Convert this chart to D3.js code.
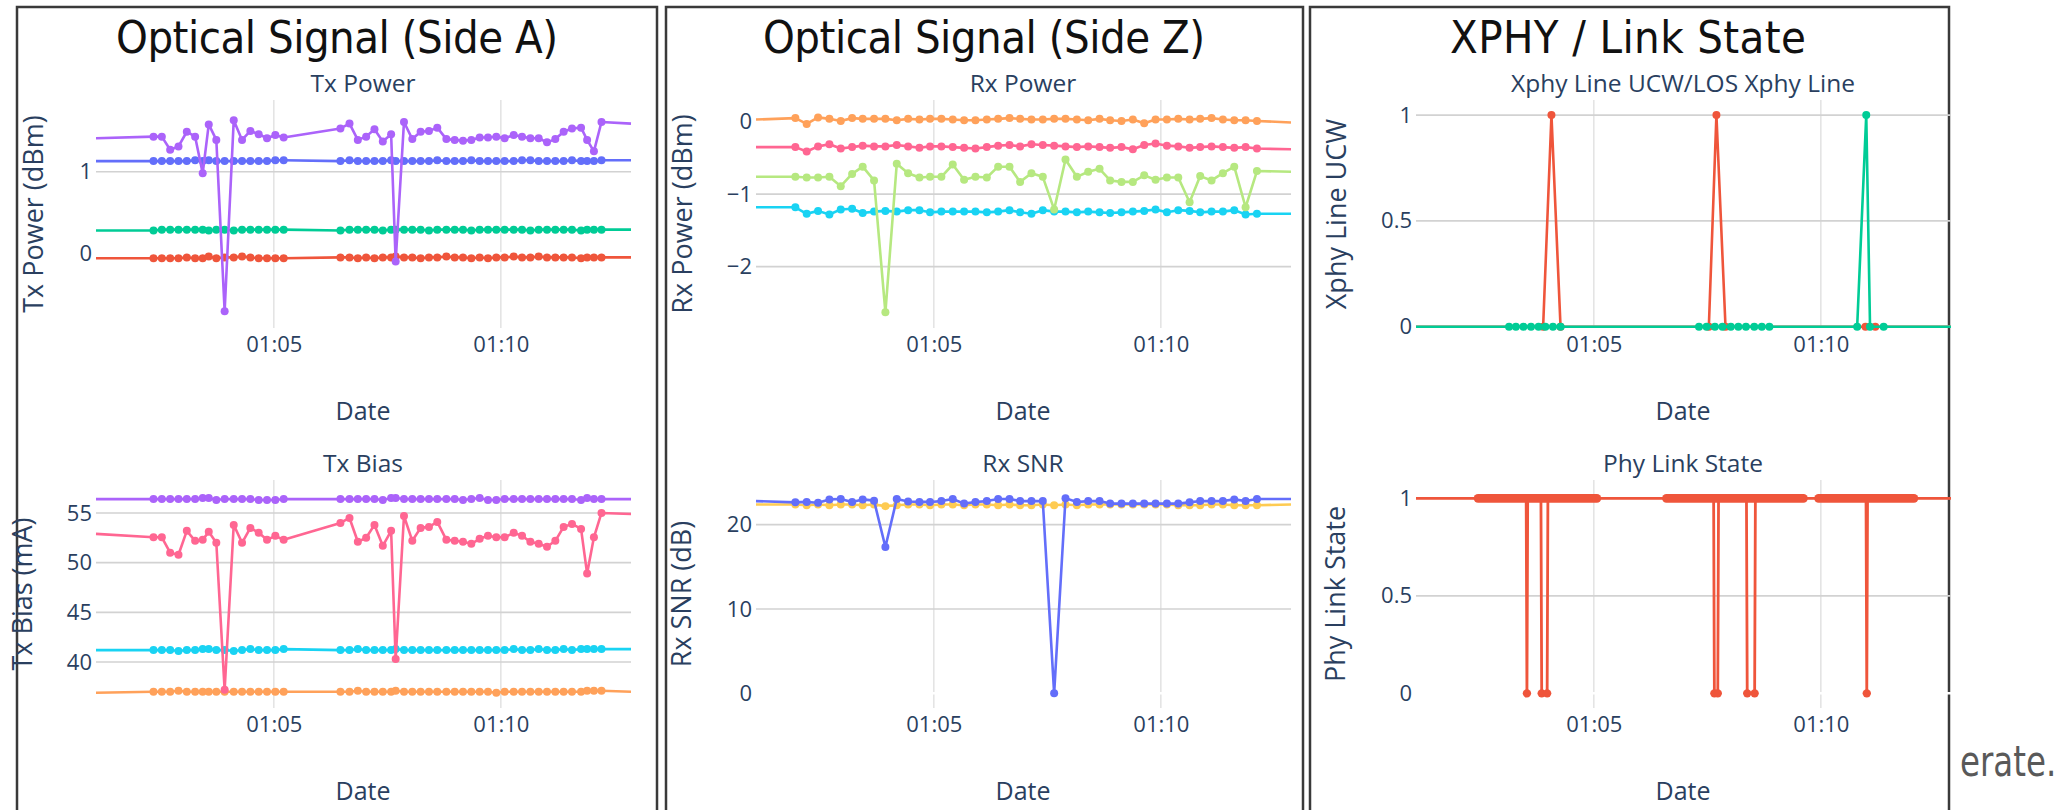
<!DOCTYPE html>
<html>
<head>
<meta charset="utf-8">
<script src="https://cdn.jsdelivr.net/npm/d3@7"></script>
<style>
  body { margin: 0; background: #fff; }
  svg { display: block; }
</style>
</head>
<body>
<div id="chart"></div>
<script>
// seconds after 01:00:00
var timeDomainSec = [65, 772]
var xTickSec = [300, 600]

// side A polls (Tx Power / Tx Bias)
var timesA = [141, 152, 163, 174, 185, 196, 206, 214, 224, 235, 247, 258, 269, 280, 291, 302, 313,
  388, 400, 411, 422, 433, 444, 455, 461, 472, 483, 494, 505, 516, 528, 539, 550, 561, 572, 583,
  594, 605, 617, 628, 639, 650, 661, 672, 683, 694, 706, 714, 723, 733]

var txPowerPurple = [1.43, 1.43, 1.27, 1.31, 1.49, 1.43, 0.98, 1.58, 1.39, -0.71, 1.63, 1.39, 1.50, 1.46, 1.41, 1.45, 1.42,
  1.53, 1.59, 1.39, 1.43, 1.52, 1.37, 1.46, -0.10, 1.61, 1.40,
  1.49, 1.50, 1.54, 1.40, 1.39, 1.38, 1.39, 1.42, 1.42, 1.43,
  1.41, 1.45, 1.43, 1.41, 1.41, 1.36, 1.40, 1.49, 1.53, 1.54,
  1.39, 1.25, 1.61]
var txPowerBlue = [1.13, 1.13, 1.13, 1.13, 1.13, 1.14, 1.13, 1.14, 1.13, 1.13, 1.13, 1.13, 1.13, 1.13, 1.13, 1.14, 1.14,
  1.13, 1.14, 1.13, 1.13, 1.13, 1.13, 1.14, 1.13, 1.13, 1.13,
  1.13, 1.13, 1.14, 1.13, 1.13, 1.13, 1.14, 1.13, 1.13, 1.13,
  1.13, 1.13, 1.14, 1.14, 1.13, 1.13, 1.13, 1.13, 1.14, 1.13,
  1.13, 1.13, 1.14]
var txPowerGreen = [0.28, 0.29, 0.29, 0.29, 0.29, 0.29, 0.29, 0.28, 0.29, 0.29, 0.28, 0.29, 0.29, 0.29, 0.29, 0.29, 0.29,
  0.28, 0.29, 0.29, 0.29, 0.29, 0.28, 0.29, 0.29, 0.29, 0.29,
  0.29, 0.28, 0.29, 0.29, 0.29, 0.29, 0.28, 0.29, 0.29, 0.29,
  0.29, 0.29, 0.29, 0.28, 0.29, 0.29, 0.29, 0.29, 0.29, 0.28,
  0.29, 0.29, 0.29]
var txPowerRed = [-0.06, -0.06, -0.06, -0.06, -0.05, -0.06, -0.06, -0.04, -0.06, -0.05, -0.05, -0.04, -0.05, -0.06, -0.06, -0.06, -0.06,
  -0.05, -0.05, -0.06, -0.05, -0.06, -0.05, -0.05, -0.04, -0.05, -0.05,
  -0.06, -0.05, -0.05, -0.04, -0.05, -0.05, -0.06, -0.05, -0.06, -0.05,
  -0.05, -0.04, -0.05, -0.05, -0.04, -0.05, -0.05, -0.05, -0.05, -0.06,
  -0.05, -0.05, -0.05]

var txBiasPurple = [56.4, 56.4, 56.4, 56.4, 56.4, 56.4, 56.5, 56.5, 56.3, 56.4, 56.4, 56.4, 56.4, 56.3, 56.3, 56.3, 56.4,
  56.4, 56.4, 56.4, 56.4, 56.4, 56.3, 56.5, 56.5, 56.4, 56.4,
  56.4, 56.4, 56.4, 56.4, 56.4, 56.3, 56.4, 56.5, 56.3, 56.3,
  56.4, 56.4, 56.4, 56.4, 56.4, 56.4, 56.4, 56.4, 56.4, 56.3,
  56.5, 56.4, 56.4]
var txBiasPink = [52.55, 52.55, 51.0, 50.8, 53.2, 52.2, 52.3, 53.1, 52.0, 37.2, 53.8, 52.0, 53.5, 53.0, 52.3, 52.7, 52.3,
  54.0, 54.5, 52.1, 52.5, 53.8, 51.7, 53.2, 40.3, 54.7, 52.2,
  53.5, 53.6, 54.1, 52.3, 52.2, 52.1, 51.9, 52.4, 52.7, 52.55,
  52.55, 53.0, 52.7, 52.1, 51.9, 51.6, 52.2, 53.6, 53.9, 53.4,
  48.9, 52.55, 55.0]
var txBiasCyan = [41.2, 41.2, 41.2, 41.1, 41.2, 41.2, 41.3, 41.3, 41.2, 41.2, 41.1, 41.2, 41.3, 41.2, 41.2, 41.2, 41.3,
  41.2, 41.2, 41.3, 41.2, 41.2, 41.2, 41.2, 41.3, 41.2, 41.2,
  41.2, 41.2, 41.2, 41.2, 41.2, 41.2, 41.2, 41.2, 41.2, 41.2,
  41.2, 41.3, 41.2, 41.2, 41.3, 41.2, 41.2, 41.3, 41.2, 41.3,
  41.3, 41.3, 41.3]
var txBiasOrange = [37.0, 37.0, 37.0, 37.1, 37.0, 37.0, 37.0, 37.0, 37.0, 37.0, 37.0, 37.0, 37.0, 37.0, 37.0, 37.0, 37.0,
  37.0, 37.0, 37.1, 37.0, 37.0, 37.0, 37.0, 37.1, 37.0, 37.0,
  37.0, 37.0, 37.0, 37.0, 37.0, 37.0, 37.0, 37.0, 37.0, 36.9,
  37.0, 37.0, 37.0, 37.0, 37.0, 37.0, 37.0, 37.0, 37.0, 37.0,
  37.1, 37.1, 37.1]

// side Z polls (Rx Power / Rx SNR)
var timesZ = [117, 132, 147, 162, 177, 192, 206, 221, 236, 251, 266, 281, 295, 310, 325, 340, 355, 370, 385, 400,
  414, 429, 444, 459, 474, 489, 504, 519, 533, 548, 563, 578, 593, 608, 623, 638, 652, 667, 682, 697, 712, 727]

var rxPowerOrange = [0.05, -0.03, 0.06, 0.04, 0.01, 0.05, 0.04, 0.04, 0.04, 0.02, 0.04, 0.03, 0.04, 0.04, 0.03, 0.02, 0.02, 0.03, 0.04, 0.05,
  0.04, 0.03, 0.03, 0.04, 0.04, 0.03, 0.02, 0.04, 0.02, 0.01, 0.03, -0.02, 0.03, 0.03, 0.04, 0.03, 0.04, 0.05, 0.03, 0.02, 0.02, 0.01]
var rxPowerPink = [-0.35, -0.41, -0.34, -0.31, -0.37, -0.35, -0.33, -0.34, -0.34, -0.32, -0.34, -0.36, -0.34, -0.34, -0.35, -0.36, -0.37, -0.35, -0.33, -0.32,
  -0.34, -0.31, -0.32, -0.33, -0.34, -0.35, -0.34, -0.35, -0.36, -0.35, -0.38, -0.32, -0.30, -0.33, -0.34, -0.36, -0.35, -0.34, -0.35, -0.36, -0.35, -0.37]
var rxPowerGreen = [-0.76, -0.77, -0.77, -0.76, -0.89, -0.72, -0.62, -0.81, -2.63, -0.58,
  -0.71, -0.77, -0.76, -0.76, -0.59, -0.80, -0.76, -0.77, -0.62, -0.62,
  -0.83, -0.71, -0.76, -1.21, -0.52, -0.76, -0.69, -0.65, -0.81, -0.83,
  -0.83, -0.74, -0.80, -0.77, -0.77, -1.11, -0.75, -0.81, -0.71, -0.62,
  -1.18, -0.68]
var rxPowerCyan = [-1.18, -1.27, -1.23, -1.28, -1.21, -1.20, -1.26, -1.24, -1.23, -1.24, -1.22, -1.22, -1.25, -1.24, -1.24, -1.24, -1.24, -1.25, -1.24, -1.22,
  -1.25, -1.27, -1.22, -1.24, -1.24, -1.25, -1.24, -1.25, -1.26, -1.25, -1.24, -1.23, -1.21, -1.25, -1.22, -1.23, -1.25, -1.24, -1.24, -1.22, -1.28, -1.27]

var rxSnrOrange = [22.4, 22.3, 22.4, 22.3, 22.4, 22.4, 22.3, 22.4, 22.2, 22.3, 22.4, 22.4, 22.3, 22.4, 22.4, 22.3, 22.4, 22.4, 22.3, 22.4,
  22.3, 22.3, 22.4, 22.3, 22.4, 22.3, 22.4, 22.4, 22.4, 22.4, 22.4, 22.4, 22.4, 22.4, 22.3, 22.3, 22.3, 22.4, 22.4, 22.3, 22.3, 22.3]
var rxSnrBlue = [22.65, 22.7, 22.6, 23.0, 23.05, 22.7, 23.0, 22.85, 17.35, 23.05,
  22.75, 22.7, 22.7, 22.8, 23.05, 22.5, 22.7, 22.8, 23.05, 23.05,
  22.8, 22.8, 22.8, 0, 23.15, 22.7, 22.8, 22.8, 22.5, 22.5,
  22.5, 22.5, 22.5, 22.5, 22.5, 22.65, 22.8, 22.8, 22.8, 23.0,
  22.8, 23.05]

// XPHY line UCW/LOS
var xphyRedTimes = [233, 244, 256, 452, 462, 474, 659, 672]
var xphyRedValues = [0, 1, 0, 0, 1, 0, 0, 0]
var xphyGreenTimes = [188, 197, 207, 217, 227, 236, 246, 256, 439, 449, 460, 470, 481, 491, 501, 512, 522, 532, 648, 660, 665, 683]
var xphyGreenValues = [0, 0, 0, 0, 0, 0, 0, 0, 0, 0, 0, 0, 0, 0, 0, 0, 0, 0, 0, 1, 0, 0]

// Phy link state: dense 1-second samples, only the flips are listed
var phyTimes = [147, 210.6, 211.6, 212.6, 230.1, 231.1, 238.3, 239.3, 304, 396, 458.3, 459.3, 463.8, 464.8,
  501.7, 502.7, 512.5, 513.5, 577, 597, 659.7, 660.7, 661.7, 723]
var phyValues = [1, 1, 0, 1, 1, 0, 0, 1, 1, 1, 1, 0, 0, 1, 1, 0, 0, 1, 1, 1, 1, 0, 1, 1]
var phyRuns = [[147, 304], [396, 577], [597, 723]]

var colors = {
  blue: "#636efa", red: "#ef553b", green: "#00cc96", purple: "#ab63fa", orange: "#ffa15a",
  cyan: "#19d3f3", pink: "#ff6692", lime: "#b6e880", yellow: "#fecb52"
}

var base = new Date(2023, 0, 1, 1, 0, 0)
var toDate = s => new Date(base.getTime() + s * 1000)
var timeDomain = timeDomainSec.map(toDate)
var xTicks = xTickSec.map(toDate)

var plotLeft = 96
var plotRight = 631
var tickColor = "#2a3f5f"
var plotFont = "'Open Sans', Verdana, Arial, sans-serif"
var slideFont = "'Liberation Sans Narrow', 'DejaVu Sans Condensed', 'Liberation Sans', Arial, sans-serif"

function series(times, values, edge, color, extra) {
  return Object.assign({ times: times, values: values, edge: edge, color: color }, extra || {})
}

var subplots = [
  { ox: 0, top: 100, bottom: 328, yDomain: [-0.915, 1.879], yTicks: [0, 1], title: "Tx Power", titleY: 92,
    yTitle: "Tx Power (dBm)", yTitleX: 34, dateY: 420,
    series: [
      series(timesA, txPowerRed, [-0.06, -0.05], colors.red),
      series(timesA, txPowerGreen, [0.28, 0.29], colors.green),
      series(timesA, txPowerBlue, [1.13, 1.14], colors.blue),
      series(timesA, txPowerPurple, [1.41, 1.59], colors.purple)
    ] },
  { ox: 0, top: 480, bottom: 708, yDomain: [35.37, 58.32], yTicks: [40, 45, 50, 55], title: "Tx Bias", titleY: 472,
    yTitle: "Tx Bias (mA)", yTitleX: 23, dateY: 800,
    series: [
      series(timesA, txBiasOrange, [36.9, 37.0], colors.orange),
      series(timesA, txBiasCyan, [41.2, 41.3], colors.cyan),
      series(timesA, txBiasPurple, [56.4, 56.4], colors.purple),
      series(timesA, txBiasPink, [52.9, 54.9], colors.pink)
    ] },
  { ox: 660, top: 100, bottom: 328, yDomain: [-2.846, 0.30], yTicks: [-2, -1, 0], title: "Rx Power", titleY: 92,
    yTitle: "Rx Power (dBm)", yTitleX: 683, dateY: 420,
    series: [
      series(timesZ, rxPowerOrange, [0.03, -0.01], colors.orange),
      series(timesZ, rxPowerPink, [-0.35, -0.38], colors.pink),
      series(timesZ, rxPowerCyan, [-1.18, -1.27], colors.cyan),
      series(timesZ, rxPowerGreen, [-0.76, -0.69], colors.lime)
    ] },
  { ox: 660, top: 480, bottom: 708, yDomain: [-1.74, 25.3], yTicks: [0, 10, 20], title: "Rx SNR", titleY: 472,
    yTitle: "Rx SNR (dB)", yTitleX: 682, dateY: 800,
    series: [
      series(timesZ, rxSnrOrange, [22.4, 22.4], colors.yellow),
      series(timesZ, rxSnrBlue, [22.8, 23.05], colors.blue)
    ] },
  { ox: 1320, top: 100, bottom: 328, yDomain: [-0.006, 1.071], yTicks: [0, 0.5, 1], title: "Xphy Line UCW/LOS Xphy Line", titleY: 92,
    yTitle: "Xphy Line UCW", yTitleX: 1337, dateY: 420,
    series: [
      series(xphyRedTimes, xphyRedValues, [0, 0], colors.red),
      series(xphyGreenTimes, xphyGreenValues, [0, 0], colors.green)
    ] },
  { ox: 1320, top: 480, bottom: 708, yDomain: [-0.075, 1.094], yTicks: [0, 0.5, 1], title: "Phy Link State", titleY: 472,
    yTitle: "Phy Link State", yTitleX: 1336, dateY: 800,
    series: [
      series(phyTimes, phyValues, [1, 1], colors.red, { markerIf: v => v === 0, runs: phyRuns, width: 2.8, r: 4.2 })
    ] }
]

var panels = [
  { x0: 17, x1: 657, title: "Optical Signal (Side A)", tx: 116, tw: 442 },
  { x0: 666, x1: 1303, title: "Optical Signal (Side Z)", tx: 763, tw: 442 },
  { x0: 1310, x1: 1949, title: "XPHY / Link State", tx: 1450, tw: 356 }
]

var svg = d3.select("#chart").append("svg")
  .attr("width", 2071)
  .attr("height", 810)

svg.append("rect").attr("width", 2071).attr("height", 810).attr("fill", "#fff")

panels.forEach(p => {
  svg.append("rect")
    .attr("x", p.x0).attr("y", 7)
    .attr("width", p.x1 - p.x0).attr("height", 810)
    .attr("fill", "#fff")
    .attr("stroke", "#3a3a3a")
    .attr("stroke-width", 2.5)
  svg.append("text")
    .attr("x", p.tx).attr("y", 53)
    .attr("font-family", slideFont)
    .attr("font-stretch", "condensed")
    .attr("font-size", 45)
    .attr("fill", "#111")
    .attr("textLength", p.tw).attr("lengthAdjust", "spacing")
    .text(p.title)
})

// slide text peeking out right of the panels
svg.append("text")
  .attr("transform", "translate(1960,776) scale(0.86,1)")
  .attr("font-family", slideFont)
  .attr("font-stretch", "condensed")
  .attr("font-size", 42).attr("fill", "#595959")
  .text("erate.")

function drawSubplot(sp) {
  var x = d3.scaleTime().domain(timeDomain).range([plotLeft + sp.ox, plotRight + sp.ox])
  var y = d3.scaleLinear().domain(sp.yDomain).range([sp.bottom, sp.top])
  var cx = (plotLeft + plotRight) / 2 - 0.5 + sp.ox

  var g = svg.append("g")

  // grid
  g.selectAll(".vgrid").data(xTicks).join("line")
    .attr("x1", d => x(d)).attr("x2", d => x(d))
    .attr("y1", sp.top).attr("y2", sp.bottom)
    .attr("stroke", "#e0e0e0").attr("stroke-width", 1.4)
  g.selectAll(".hgrid").data(sp.yTicks.filter(d => d !== 0)).join("line")
    .attr("x1", plotLeft + sp.ox).attr("x2", plotRight + sp.ox)
    .attr("y1", d => y(d)).attr("y2", d => y(d))
    .attr("stroke", "#d2d2d2").attr("stroke-width", 1.7)
  g.selectAll(".zline").data(sp.yTicks.filter(d => d === 0)).join("line")
    .attr("x1", plotLeft + sp.ox).attr("x2", plotRight + sp.ox)
    .attr("y1", d => y(d)).attr("y2", d => y(d))
    .attr("stroke", "#fff").attr("stroke-width", 2.5)

  // axes
  var xAxis = g.append("g")
    .attr("transform", `translate(0,${sp.bottom})`)
    .call(d3.axisBottom(x).tickValues(xTicks).tickFormat(d3.timeFormat("%H:%M")).tickSize(0).tickPadding(8.5))
  var yAxis = g.append("g")
    .attr("transform", `translate(${plotLeft + sp.ox},0)`)
    .call(d3.axisLeft(y).tickValues(sp.yTicks).tickFormat(d3.format("~g")).tickSize(0).tickPadding(4))
  ;[xAxis, yAxis].forEach(a => {
    a.select(".domain").remove()
    a.selectAll("text")
      .attr("fill", tickColor)
      .attr("font-family", plotFont)
      .attr("font-size", 22)
  })

  // traces
  sp.series.forEach(s => {
    var pts = s.times.map((t, i) => ({ t: toDate(t), v: s.values[i] }))
    var linePts = [{ t: timeDomain[0], v: s.edge[0] }].concat(pts, [{ t: timeDomain[1], v: s.edge[1] }])
    var r = s.r || 4

    g.append("path")
      .datum(linePts)
      .attr("fill", "none")
      .attr("stroke", s.color)
      .attr("stroke-width", s.width || 2.6)
      .attr("stroke-linejoin", "round")
      .attr("d", d3.line().x(d => x(d.t)).y(d => y(d.v)))

    if (s.runs) {
      g.selectAll(null).data(s.runs).join("line")
        .attr("x1", d => x(toDate(d[0]))).attr("x2", d => x(toDate(d[1])))
        .attr("y1", y(1)).attr("y2", y(1))
        .attr("stroke", s.color)
        .attr("stroke-width", r * 2.1)
        .attr("stroke-linecap", "round")
    }

    g.selectAll(null).data(pts.filter(d => s.markerIf ? s.markerIf(d.v) : true)).join("circle")
      .attr("cx", d => x(d.t))
      .attr("cy", d => y(d.v))
      .attr("r", r)
      .attr("fill", s.color)
  })

  // titles
  g.append("text")
    .attr("x", cx).attr("y", sp.titleY)
    .attr("text-anchor", "middle")
    .attr("font-family", plotFont).attr("font-size", 24.5)
    .attr("fill", tickColor)
    .text(sp.title)
  g.append("text")
    .attr("x", cx).attr("y", sp.dateY)
    .attr("text-anchor", "middle")
    .attr("font-family", plotFont).attr("font-size", 25)
    .attr("fill", tickColor)
    .text("Date")
  g.append("text")
    .attr("transform", `translate(${sp.yTitleX},${(sp.top + sp.bottom) / 2}) rotate(-90)`)
    .attr("text-anchor", "middle")
    .attr("dy", "0.35em")
    .attr("font-family", plotFont).attr("font-size", 27)
    .attr("fill", tickColor)
    .text(sp.yTitle)
}

subplots.forEach(drawSubplot)
</script>
</body>
</html>
